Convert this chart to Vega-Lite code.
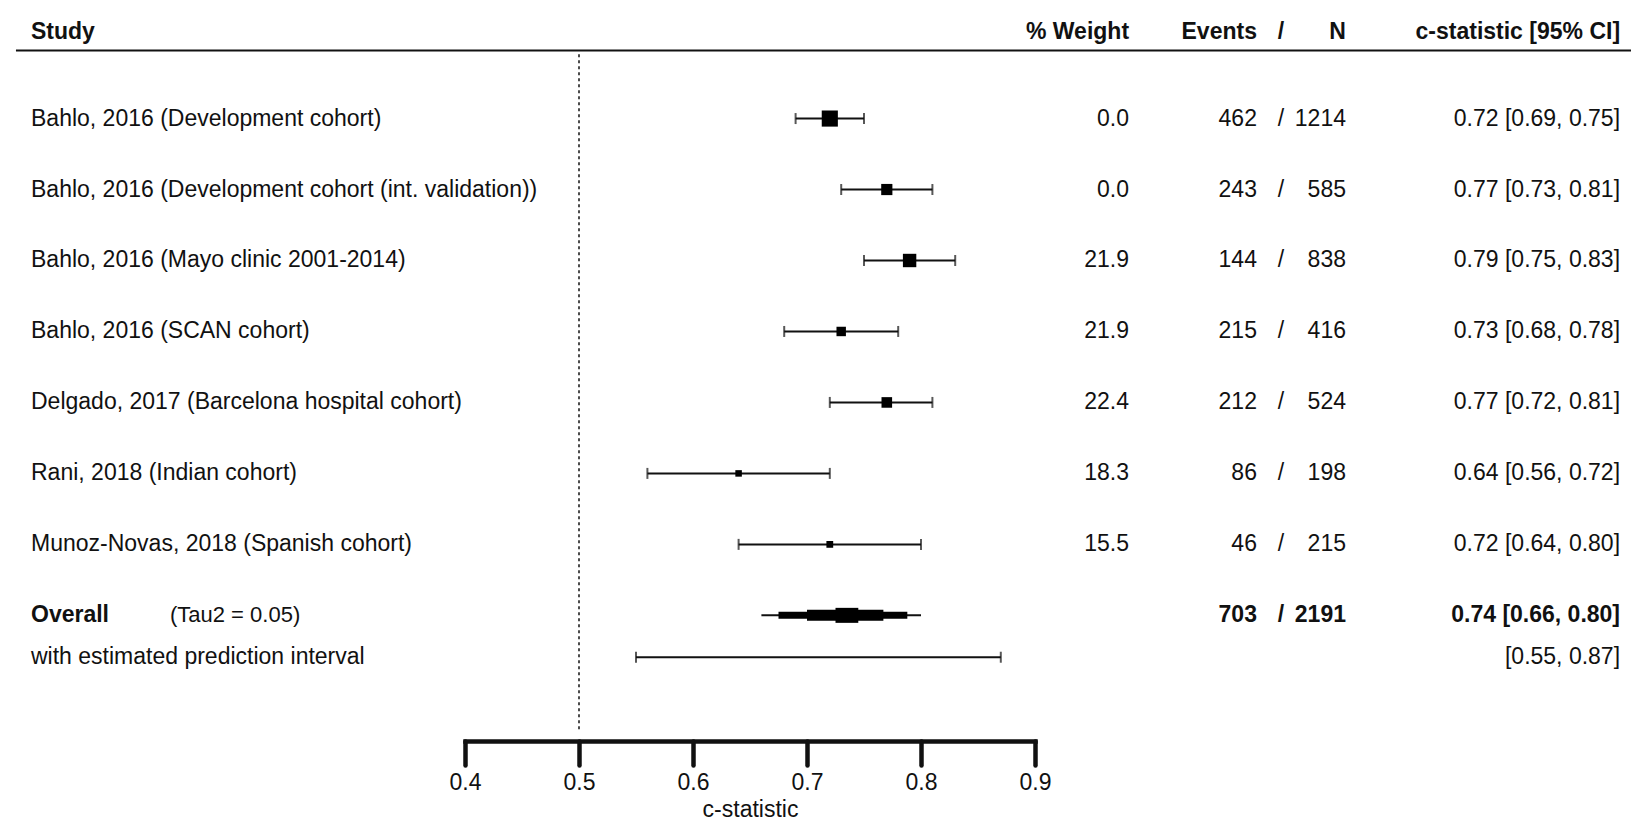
{
  "$schema": "https://vega.github.io/schema/vega-lite/v6.json",
  "width": 570,
  "height": 741,
  "autosize": {"type": "none"},
  "padding": {"left": 465, "right": 596, "top": 0, "bottom": 90},
  "background": "white",
  "config": {
    "view": {"stroke": null},
    "text": {"font": "Liberation Sans", "fontSize": 23, "baseline": "middle", "fill": "#111"},
    "axisX": {
      "format": ".1f", "grid": false,
      "domainColor": "#111", "domainWidth": 4.5, "domainCap": "square",
      "tickColor": "#111", "tickWidth": 4.5, "tickSize": 24, "tickCap": "round",
      "labelFont": "Liberation Sans", "labelFontSize": 23, "labelColor": "#111",
      "labelPadding": 6, "labelFlush": false, "labelOverlap": false,
      "titleFont": "Liberation Sans", "titleFontSize": 23, "titleFontWeight": "normal",
      "titleColor": "#111", "titlePadding": 4
    }
  },
  "resolve": {"scale": {"size": "independent"}, "legend": {"size": "independent"}},
  "datasets": {
    "studies": [
      {"order": 1, "study": "Bahlo, 2016 (Development cohort)", "weight": 0.0, "events": 462, "n": 1214, "est": 0.72, "lo": 0.69, "hi": 0.75, "ci": "0.72 [0.69, 0.75]"},
      {"order": 2, "study": "Bahlo, 2016 (Development cohort (int. validation))", "weight": 0.0, "events": 243, "n": 585, "est": 0.77, "lo": 0.73, "hi": 0.81, "ci": "0.77 [0.73, 0.81]"},
      {"order": 3, "study": "Bahlo, 2016 (Mayo clinic 2001-2014)", "weight": 21.9, "events": 144, "n": 838, "est": 0.79, "lo": 0.75, "hi": 0.83, "ci": "0.79 [0.75, 0.83]"},
      {"order": 4, "study": "Bahlo, 2016 (SCAN cohort)", "weight": 21.9, "events": 215, "n": 416, "est": 0.73, "lo": 0.68, "hi": 0.78, "ci": "0.73 [0.68, 0.78]"},
      {"order": 5, "study": "Delgado, 2017 (Barcelona hospital cohort)", "weight": 22.4, "events": 212, "n": 524, "est": 0.77, "lo": 0.72, "hi": 0.81, "ci": "0.77 [0.72, 0.81]"},
      {"order": 6, "study": "Rani, 2018 (Indian cohort)", "weight": 18.3, "events": 86, "n": 198, "est": 0.64, "lo": 0.56, "hi": 0.72, "ci": "0.64 [0.56, 0.72]"},
      {"order": 7, "study": "Munoz-Novas, 2018 (Spanish cohort)", "weight": 15.5, "events": 46, "n": 215, "est": 0.72, "lo": 0.64, "hi": 0.80, "ci": "0.72 [0.64, 0.80]"}
    ],
    "overall": [
      {"events": 703, "n": 2191, "est": 0.74, "lo": 0.66, "hi": 0.80, "ci": "0.74 [0.66, 0.80]", "pi_lo": 0.55, "pi_hi": 0.87, "pi": "[0.55, 0.87]"}
    ],
    "bands": [
      {"tier": 1, "lo": 0.675, "hi": 0.788},
      {"tier": 2, "lo": 0.70, "hi": 0.767},
      {"tier": 3, "lo": 0.725, "hi": 0.745}
    ]
  },
  "layer": [
    {
      "data": {"name": "studies"},
      "mark": {"type": "rule", "strokeWidth": 2, "color": "#111"},
      "encoding": {
        "x": {
          "field": "lo", "type": "quantitative",
          "scale": {"domain": [0.4, 0.9], "nice": false, "zero": false},
          "title": "c-statistic",
          "axis": {"values": [0.4, 0.5, 0.6, 0.7, 0.8, 0.9]}
        },
        "x2": {"field": "hi"},
        "y": {
          "field": "order", "type": "quantitative",
          "scale": {"domain": [-0.6, 9.7], "reverse": true, "nice": false, "zero": false},
          "axis": null
        }
      }
    },
    {
      "data": {"values": [{}]},
      "mark": {"type": "rule", "strokeWidth": 2, "color": "#111"},
      "encoding": {
        "x": {"datum": 0.0061, "axis": {"values": [0.4, 0.5, 0.6, 0.7, 0.8, 0.9]}},
        "x2": {"datum": 1.4228},
        "y": {"datum": 0.04, "axis": null}
      }
    },
    {
      "data": {"values": [{}]},
      "mark": {"type": "rule", "strokeWidth": 1.5, "strokeDash": [3, 3], "color": "#111"},
      "encoding": {
        "x": {"datum": 0.5, "axis": {"values": [0.4, 0.5, 0.6, 0.7, 0.8, 0.9]}},
        "y": {"datum": 0.095, "axis": null},
        "y2": {"datum": 9.63}
      }
    },
    {
      "data": {"name": "studies"},
      "mark": {"type": "tick", "orient": "vertical", "size": 11, "thickness": 2, "color": "#111"},
      "encoding": {
        "x": {"field": "lo", "type": "quantitative", "axis": {"values": [0.4, 0.5, 0.6, 0.7, 0.8, 0.9]}},
        "y": {"field": "order", "type": "quantitative", "axis": null}
      }
    },
    {
      "data": {"name": "studies"},
      "mark": {"type": "tick", "orient": "vertical", "size": 11, "thickness": 2, "color": "#111"},
      "encoding": {
        "x": {"field": "hi", "type": "quantitative", "axis": {"values": [0.4, 0.5, 0.6, 0.7, 0.8, 0.9]}},
        "y": {"field": "order", "type": "quantitative", "axis": null}
      }
    },
    {
      "data": {"name": "studies"},
      "mark": {"type": "point", "shape": "square", "filled": true, "opacity": 1, "color": "#000"},
      "encoding": {
        "x": {"field": "est", "type": "quantitative", "axis": {"values": [0.4, 0.5, 0.6, 0.7, 0.8, 0.9]}},
        "y": {"field": "order", "type": "quantitative", "axis": null},
        "size": {"field": "n", "type": "quantitative", "scale": {"type": "linear", "domain": [0, 1214], "range": [0, 260], "zero": true}, "legend": null}
      }
    },
    {
      "data": {"name": "studies"},
      "mark": {"type": "text", "align": "left"},
      "encoding": {
        "x": {"datum": 0.0193, "axis": {"values": [0.4, 0.5, 0.6, 0.7, 0.8, 0.9]}},
        "y": {"field": "order", "type": "quantitative", "axis": null},
        "text": {"field": "study"}
      }
    },
    {
      "data": {"name": "studies"},
      "mark": {"type": "text", "align": "right"},
      "encoding": {
        "x": {"datum": 0.9825, "axis": {"values": [0.4, 0.5, 0.6, 0.7, 0.8, 0.9]}},
        "y": {"field": "order", "type": "quantitative", "axis": null},
        "text": {"field": "weight", "type": "quantitative", "format": ".1f"}
      }
    },
    {
      "data": {"name": "studies"},
      "mark": {"type": "text", "align": "right"},
      "encoding": {
        "x": {"datum": 1.0947, "axis": {"values": [0.4, 0.5, 0.6, 0.7, 0.8, 0.9]}},
        "y": {"field": "order", "type": "quantitative", "axis": null},
        "text": {"field": "events", "type": "quantitative", "format": "d"}
      }
    },
    {
      "data": {"name": "studies"},
      "mark": {"type": "text", "align": "center", "text": "/"},
      "encoding": {
        "x": {"datum": 1.1158, "axis": {"values": [0.4, 0.5, 0.6, 0.7, 0.8, 0.9]}},
        "y": {"field": "order", "type": "quantitative", "axis": null}
      }
    },
    {
      "data": {"name": "studies"},
      "mark": {"type": "text", "align": "right"},
      "encoding": {
        "x": {"datum": 1.1728, "axis": {"values": [0.4, 0.5, 0.6, 0.7, 0.8, 0.9]}},
        "y": {"field": "order", "type": "quantitative", "axis": null},
        "text": {"field": "n", "type": "quantitative", "format": "d"}
      }
    },
    {
      "data": {"name": "studies"},
      "mark": {"type": "text", "align": "right"},
      "encoding": {
        "x": {"datum": 1.4132, "axis": {"values": [0.4, 0.5, 0.6, 0.7, 0.8, 0.9]}},
        "y": {"field": "order", "type": "quantitative", "axis": null},
        "text": {"field": "ci"}
      }
    },
    {
      "data": {"name": "overall"},
      "mark": {"type": "rule", "strokeWidth": 2, "color": "#111"},
      "encoding": {
        "x": {"field": "lo", "type": "quantitative", "axis": {"values": [0.4, 0.5, 0.6, 0.7, 0.8, 0.9]}},
        "x2": {"field": "hi"},
        "y": {"datum": 8, "axis": null}
      }
    },
    {
      "data": {"name": "bands"},
      "mark": {"type": "bar", "color": "#000"},
      "encoding": {
        "x": {"field": "lo", "type": "quantitative", "axis": {"values": [0.4, 0.5, 0.6, 0.7, 0.8, 0.9]}},
        "x2": {"field": "hi"},
        "y": {"datum": 8, "axis": null},
        "size": {"field": "tier", "type": "quantitative", "scale": {"domain": [1, 3], "range": [7, 15], "zero": false}, "legend": null}
      }
    },
    {
      "data": {"name": "overall"},
      "mark": {"type": "text", "align": "left", "fontWeight": "bold", "text": "Overall"},
      "encoding": {
        "x": {"datum": 0.0193, "axis": {"values": [0.4, 0.5, 0.6, 0.7, 0.8, 0.9]}},
        "y": {"datum": 8, "axis": null}
      }
    },
    {
      "data": {"name": "overall"},
      "mark": {"type": "text", "align": "left", "fontSize": 22, "text": "(Tau2 = 0.05)"},
      "encoding": {
        "x": {"datum": 0.1412, "axis": {"values": [0.4, 0.5, 0.6, 0.7, 0.8, 0.9]}},
        "y": {"datum": 8, "axis": null}
      }
    },
    {
      "data": {"name": "overall"},
      "mark": {"type": "text", "align": "right", "fontWeight": "bold"},
      "encoding": {
        "x": {"datum": 1.0947, "axis": {"values": [0.4, 0.5, 0.6, 0.7, 0.8, 0.9]}},
        "y": {"datum": 8, "axis": null},
        "text": {"field": "events", "type": "quantitative", "format": "d"}
      }
    },
    {
      "data": {"name": "overall"},
      "mark": {"type": "text", "align": "center", "fontWeight": "bold", "text": "/"},
      "encoding": {
        "x": {"datum": 1.1158, "axis": {"values": [0.4, 0.5, 0.6, 0.7, 0.8, 0.9]}},
        "y": {"datum": 8, "axis": null}
      }
    },
    {
      "data": {"name": "overall"},
      "mark": {"type": "text", "align": "right", "fontWeight": "bold"},
      "encoding": {
        "x": {"datum": 1.1728, "axis": {"values": [0.4, 0.5, 0.6, 0.7, 0.8, 0.9]}},
        "y": {"datum": 8, "axis": null},
        "text": {"field": "n", "type": "quantitative", "format": "d"}
      }
    },
    {
      "data": {"name": "overall"},
      "mark": {"type": "text", "align": "right", "fontWeight": "bold"},
      "encoding": {
        "x": {"datum": 1.4132, "axis": {"values": [0.4, 0.5, 0.6, 0.7, 0.8, 0.9]}},
        "y": {"datum": 8, "axis": null},
        "text": {"field": "ci"}
      }
    },
    {
      "data": {"name": "overall"},
      "mark": {"type": "rule", "strokeWidth": 2, "color": "#111"},
      "encoding": {
        "x": {"field": "pi_lo", "type": "quantitative", "axis": {"values": [0.4, 0.5, 0.6, 0.7, 0.8, 0.9]}},
        "x2": {"field": "pi_hi"},
        "y": {"datum": 8.59, "axis": null}
      }
    },
    {
      "data": {"name": "overall"},
      "mark": {"type": "tick", "orient": "vertical", "size": 11, "thickness": 2, "color": "#111"},
      "encoding": {
        "x": {"field": "pi_lo", "type": "quantitative", "axis": {"values": [0.4, 0.5, 0.6, 0.7, 0.8, 0.9]}},
        "y": {"datum": 8.59, "axis": null}
      }
    },
    {
      "data": {"name": "overall"},
      "mark": {"type": "tick", "orient": "vertical", "size": 11, "thickness": 2, "color": "#111"},
      "encoding": {
        "x": {"field": "pi_hi", "type": "quantitative", "axis": {"values": [0.4, 0.5, 0.6, 0.7, 0.8, 0.9]}},
        "y": {"datum": 8.59, "axis": null}
      }
    },
    {
      "data": {"name": "overall"},
      "mark": {"type": "text", "align": "left", "text": "with estimated prediction interval"},
      "encoding": {
        "x": {"datum": 0.0193, "axis": {"values": [0.4, 0.5, 0.6, 0.7, 0.8, 0.9]}},
        "y": {"datum": 8.59, "axis": null}
      }
    },
    {
      "data": {"name": "overall"},
      "mark": {"type": "text", "align": "right"},
      "encoding": {
        "x": {"datum": 1.4132, "axis": {"values": [0.4, 0.5, 0.6, 0.7, 0.8, 0.9]}},
        "y": {"datum": 8.59, "axis": null},
        "text": {"field": "pi"}
      }
    },
    {
      "data": {"values": [{}]},
      "mark": {"type": "text", "align": "left", "fontWeight": "bold", "text": "Study"},
      "encoding": {"x": {"datum": 0.0193, "axis": {"values": [0.4, 0.5, 0.6, 0.7, 0.8, 0.9]}}, "y": {"datum": -0.225, "axis": null}}
    },
    {
      "data": {"values": [{}]},
      "mark": {"type": "text", "align": "right", "fontWeight": "bold", "text": "% Weight"},
      "encoding": {"x": {"datum": 0.9825, "axis": {"values": [0.4, 0.5, 0.6, 0.7, 0.8, 0.9]}}, "y": {"datum": -0.225, "axis": null}}
    },
    {
      "data": {"values": [{}]},
      "mark": {"type": "text", "align": "right", "fontWeight": "bold", "text": "Events"},
      "encoding": {"x": {"datum": 1.0947, "axis": {"values": [0.4, 0.5, 0.6, 0.7, 0.8, 0.9]}}, "y": {"datum": -0.225, "axis": null}}
    },
    {
      "data": {"values": [{}]},
      "mark": {"type": "text", "align": "center", "fontWeight": "bold", "text": "/"},
      "encoding": {"x": {"datum": 1.1158, "axis": {"values": [0.4, 0.5, 0.6, 0.7, 0.8, 0.9]}}, "y": {"datum": -0.225, "axis": null}}
    },
    {
      "data": {"values": [{}]},
      "mark": {"type": "text", "align": "right", "fontWeight": "bold", "text": "N"},
      "encoding": {"x": {"datum": 1.1728, "axis": {"values": [0.4, 0.5, 0.6, 0.7, 0.8, 0.9]}}, "y": {"datum": -0.225, "axis": null}}
    },
    {
      "data": {"values": [{}]},
      "mark": {"type": "text", "align": "right", "fontWeight": "bold", "text": "c-statistic [95% CI]"},
      "encoding": {"x": {"datum": 1.4132, "axis": {"values": [0.4, 0.5, 0.6, 0.7, 0.8, 0.9]}}, "y": {"datum": -0.225, "axis": null}}
    }
  ]
}
